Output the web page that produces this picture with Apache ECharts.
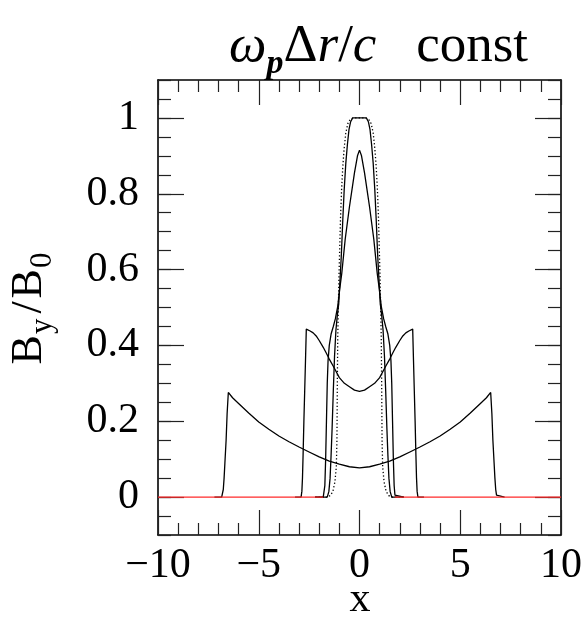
<!DOCTYPE html>
<html>
<head>
<meta charset="utf-8">
<script src="https://cdn.jsdelivr.net/npm/echarts@6/dist/echarts.min.js"></script>
<style>
  html, body { margin: 0; padding: 0; background: #fff; }
  #chart { width: 585px; height: 623px; }
</style>
</head>
<body>
<div id="chart"></div>
<script>
// Field profiles B_y/B_0 versus x
const dottedX = [-2.2, -1.6, -1.45, -1.32, -1.22, -1.15, -1.12, -1.1, -1.08, -1.05, -1.02, -0.98, -0.94, -0.89, -0.83, -0.76, -0.68, -0.58, -0.46, -0.3, 0, 0.3, 0.46, 0.58, 0.68, 0.76, 0.83, 0.89, 0.94, 0.98, 1.02, 1.05, 1.08, 1.1, 1.12, 1.15, 1.22, 1.32, 1.45, 1.6, 2.2];
const dottedY = [0, 0, 0.004, 0.015, 0.04, 0.08, 0.15, 0.3, 0.42, 0.5, 0.58, 0.66, 0.74, 0.81, 0.87, 0.92, 0.96, 0.985, 0.996, 1.0, 1.0, 1.0, 0.996, 0.985, 0.96, 0.92, 0.87, 0.81, 0.74, 0.66, 0.58, 0.5, 0.42, 0.3, 0.15, 0.08, 0.04, 0.015, 0.004, 0, 0];

const flatX = [-2.2, -1.6, -1.52, -1.46, -1.41, -1.36, -1.3, -1.24, -1.17, -1.1, -1.03, -0.96, -0.9, -0.83, -0.76, -0.68, -0.6, -0.52, -0.44, -0.34, 0, 0.34, 0.44, 0.52, 0.6, 0.68, 0.76, 0.83, 0.9, 0.96, 1.03, 1.1, 1.17, 1.24, 1.3, 1.36, 1.41, 1.46, 1.52, 1.6, 2.2];
const flatY = [0, 0, 0.015, 0.05, 0.11, 0.18, 0.28, 0.37, 0.44, 0.48, 0.51, 0.58, 0.64, 0.73, 0.81, 0.88, 0.93, 0.97, 0.99, 1.0, 1.0, 1.0, 0.99, 0.97, 0.93, 0.88, 0.81, 0.73, 0.64, 0.58, 0.51, 0.48, 0.44, 0.37, 0.28, 0.18, 0.11, 0.05, 0.015, 0, 0];

const peakX = [-2.2, -1.8, -1.76, -1.72, -1.68, -1.64, -1.6, -1.56, -1.5, -1.41, -1.3, -1.2, -1.08, -0.98, -0.88, -0.71, -0.5, -0.25, -0.1, 0, 0.1, 0.25, 0.5, 0.71, 0.88, 0.98, 1.08, 1.2, 1.3, 1.41, 1.5, 1.56, 1.6, 1.64, 1.68, 1.72, 1.76, 1.8, 2.2];
const peakY = [0, 0, 0.005, 0.03, 0.1, 0.2, 0.3, 0.36, 0.4, 0.43, 0.45, 0.47, 0.503, 0.55, 0.59, 0.68, 0.765, 0.855, 0.9, 0.915, 0.9, 0.855, 0.765, 0.68, 0.59, 0.55, 0.503, 0.47, 0.45, 0.43, 0.4, 0.36, 0.3, 0.2, 0.1, 0.03, 0.005, 0, 0];

const midX = [-3.2, -2.9, -2.86, -2.83, -2.8, -2.76, -2.72, -2.68, -2.64, -2.45, -2.3, -2.15, -2.0, -1.8, -1.65, -1.5, -1.3, -1.0, -0.75, -0.5, -0.25, 0, 0.25, 0.5, 0.75, 1.0, 1.3, 1.5, 1.65, 1.8, 2.0, 2.15, 2.3, 2.45, 2.64, 2.68, 2.72, 2.76, 2.8, 2.83, 2.86, 2.9, 3.2];
const midY = [0, 0, 0.015, 0.05, 0.11, 0.2, 0.28, 0.36, 0.443, 0.438, 0.433, 0.425, 0.413, 0.395, 0.38, 0.364, 0.345, 0.315, 0.3, 0.291, 0.282, 0.279, 0.282, 0.291, 0.3, 0.315, 0.345, 0.364, 0.38, 0.395, 0.413, 0.425, 0.433, 0.438, 0.443, 0.36, 0.28, 0.2, 0.11, 0.05, 0.015, 0, 0];

const wideX = [-7.2, -6.84, -6.8, -6.76, -6.72, -6.68, -6.62, -6.57, -6.51, -6.3, -6.0, -5.5, -5.0, -4.5, -4.0, -3.5, -3.0, -2.5, -2.0, -1.5, -1.0, -0.5, 0, 0.5, 1.0, 1.5, 2.0, 2.5, 3.0, 3.5, 4.0, 4.5, 5.0, 5.5, 6.0, 6.3, 6.51, 6.57, 6.62, 6.68, 6.72, 6.76, 6.8, 6.84, 7.2];
const wideY = [0, 0, 0.005, 0.02, 0.05, 0.09, 0.15, 0.22, 0.276, 0.262, 0.247, 0.222, 0.198, 0.179, 0.161, 0.146, 0.132, 0.119, 0.106, 0.095, 0.087, 0.08, 0.077, 0.08, 0.087, 0.095, 0.106, 0.119, 0.132, 0.146, 0.161, 0.179, 0.198, 0.222, 0.247, 0.262, 0.276, 0.22, 0.15, 0.09, 0.05, 0.02, 0.005, 0, 0];

// zero baseline, drawn in red outside the central pulse
const baseLeftX = [-10, -1.8];
const baseRightX = [1.75, 10];
const baseY = [0, 0];

// axis ticks and labels
const xTicks = [-10, -5, 0, 5, 10];
const yMajor = [0, 0.2, 0.4, 0.6, 0.8, 1];

const FONT = 'Liberation Serif';
const pairs = (xs, ys) => xs.map((x, i) => [x, ys[i]]);

const chart = echarts.init(document.getElementById('chart'), null, { renderer: 'canvas' });

const tickStyle = { color: '#222', width: 1.2 };
const frameLine = { show: true, onZero: false, lineStyle: { color: '#000', width: 1.6 } };

function xAxisDef(pos, labels) {
  return {
    type: 'value', position: pos, min: -10, max: 10, interval: 5,
    axisLine: frameLine,
    axisTick: { show: true, inside: true, length: 25, lineStyle: tickStyle },
    minorTick: { show: true, splitNumber: 5, length: 12, lineStyle: tickStyle },
    splitLine: { show: false },
    axisLabel: labels ? {
      show: true, fontFamily: FONT, fontSize: 42, color: '#000', margin: 10,
      customValues: xTicks,
      formatter: v => (v < 0 ? '\u2212' + Math.abs(v) : String(v))
    } : { show: false }
  };
}

function yMajorDef(pos, labels) {
  return {
    type: 'value', position: pos, min: -0.1, max: 1.1, interval: 0.05,
    axisLine: frameLine,
    axisTick: { show: true, inside: true, length: 26, customValues: yMajor, lineStyle: tickStyle },
    splitLine: { show: false },
    axisLabel: labels ? {
      show: true, customValues: yMajor, fontFamily: FONT, fontSize: 42, color: '#000', margin: 19
    } : { show: false },
    name: labels ? '{b|B}{s|y}{sl|/}{b|B}{s|0}' : '',
    nameLocation: 'middle', nameRotate: 90, nameGap: 100, nameMoveOverlap: false,
    nameTextStyle: {
      rich: {
        b: { fontFamily: FONT, fontSize: 44, color: '#000', lineHeight: 58, verticalAlign: 'middle' },
        sl: { fontFamily: FONT, fontSize: 44, color: '#000', lineHeight: 58, verticalAlign: 'middle', padding: [0, 3, 0, 3] },
        s: { fontFamily: FONT, fontSize: 31, color: '#000', lineHeight: 58, verticalAlign: 'bottom', padding: [0, 2, 0, 1] }
      }
    }
  };
}

function yMinorDef(pos) {
  return {
    type: 'value', position: pos, min: -0.1, max: 1.1, interval: 0.05,
    axisLine: { show: false, onZero: false },
    axisTick: { show: true, inside: true, length: 13, lineStyle: tickStyle },
    splitLine: { show: false },
    axisLabel: { show: false }
  };
}

function line(xs, ys, opts) {
  return Object.assign({
    type: 'line', data: pairs(xs, ys), showSymbol: false, symbol: 'none',
    xAxisIndex: 0, yAxisIndex: 0, animation: false, silent: true,
    lineStyle: { color: '#000', width: 1.3 }
  }, opts || {});
}

chart.setOption({
  backgroundColor: '#fff',
  animation: false,
  title: {
    text: '{i|\u03c9}{sub|p}{n|\u0394}{i|r}{n|/}{i|c}{n|\u2002\u2005const}',
    left: 224, top: 8,
    textStyle: {
      rich: {
        i: { fontFamily: FONT, fontStyle: 'italic', fontWeight: 'normal', fontSize: 53, color: '#000', lineHeight: 68, verticalAlign: 'middle' },
        sub: { fontFamily: FONT, fontStyle: 'italic', fontWeight: 'bold', fontSize: 34, color: '#000', lineHeight: 68, verticalAlign: 'bottom' },
        n: { fontFamily: FONT, fontWeight: 'normal', fontSize: 53, color: '#000', lineHeight: 68, verticalAlign: 'middle' }
      }
    }
  },
  // x-axis title, centred under the plot
  graphic: [{
    type: 'text', x: 360, y: 600, silent: true,
    style: { text: 'x', fontFamily: FONT, fontSize: 42, fill: '#000', align: 'center', verticalAlign: 'middle' }
  }],
  grid: { left: 158, right: 24, top: 80, bottom: 88, containLabel: false, outerBoundsMode: 'none' },
  xAxis: [xAxisDef('bottom', true), xAxisDef('top', false)],
  yAxis: [yMajorDef('left', true), yMinorDef('left'), yMajorDef('right', false), yMinorDef('right')],
  series: [
    line(wideX, wideY),
    line(midX, midY),
    line(peakX, peakY),
    line(flatX, flatY),
    line(dottedX, dottedY, { lineStyle: { color: '#000', width: 1.3, type: [1.3, 2.2] } }),
    line(baseLeftX, baseY, { lineStyle: { color: '#ff2a2a', width: 1.3 } }),
    line(baseRightX, baseY, { lineStyle: { color: '#ff2a2a', width: 1.3 } })
  ]
});
</script>
</body>
</html>
